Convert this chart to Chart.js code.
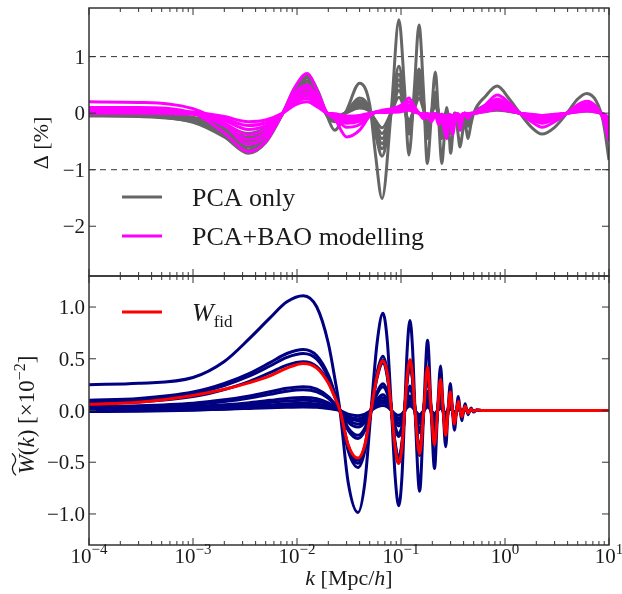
<!DOCTYPE html>
<html>
<head>
<meta charset="utf-8">
<script src="https://cdn.jsdelivr.net/npm/chart.js@4.4.0/dist/chart.umd.min.js"></script>
<style>
  body { margin: 0; background: #fff; }
  #wrap { position: relative; width: 622px; height: 594px; }
  canvas { position: absolute; left: 0; }
  #delta { top: 0; }
  #window { top: 275px; }
</style>
</head>
<body>
<div id="wrap">
  <canvas id="delta" width="622" height="277"></canvas>
  <canvas id="window" width="622" height="319"></canvas>
</div>
<script>
// ---- residuals Delta [%] ----
var kDelta = [1e-4, 3e-4, 1e-3, 2e-3, 3.4e-3, 5e-3, 7.3e-3, 0.0095, 0.0125, 0.016,
  0.0195, 0.023, 0.030, 0.040, 0.050, 0.057, 0.0657, 0.081, 0.0955, 0.108,
  0.119, 0.134, 0.149, 0.165, 0.179, 0.195, 0.214, 0.23, 0.247, 0.26,
  0.275, 0.29, 0.30, 0.315, 0.33, 0.35, 0.37, 0.39, 0.41, 0.425,
  0.44, 0.47, 0.5, 0.65, 0.84, 1.1, 1.39, 1.8, 2.27, 3.0,
  3.94, 5.0, 6.1, 7.5, 8.8, 10];

var pcaOnly = [
  [-0.02, -0.04, -0.16, -0.42, -0.71, -0.52, 0.0, 0.45, 0.67, 0.38, -0.05, -0.30, 0.05, 0.53, 0.15, -0.75, -1.51, 0.1, 1.65, 0.45, -0.74, 0.4, 1.56, 0.35, -0.89, -0.1, 0.73, -0.1, -0.89, -0.45, 0.1, -0.35, -0.71, -0.35, 0.0, -0.3, -0.6, -0.35, -0.12, -0.3, -0.45, -0.2, 0.0, 0.3, 0.48, 0.25, 0.0, -0.25, -0.37, -0.25, 0.0, 0.25, 0.35, 0.22, -0.15, -0.83],
  [-0.02, -0.04, -0.15, -0.39, -0.65, -0.48, 0.0, 0.41, 0.62, 0.35, -0.05, -0.15, 0.03, 0.27, 0.08, -0.38, -0.76, 0.05, 0.83, 0.23, -0.37, 0.2, 0.78, 0.18, -0.45, -0.05, 0.37, -0.05, -0.45, -0.23, 0.05, -0.18, -0.36, -0.18, 0.0, -0.15, -0.3, -0.18, -0.06, -0.15, -0.23, -0.1, 0.0, 0.14, 0.22, 0.11, 0.0, -0.11, -0.17, -0.11, 0.0, 0.11, 0.16, 0.1, -0.07, -0.37],
  [-0.05, -0.06, -0.15, -0.36, -0.6, -0.44, 0.0, 0.38, 0.57, 0.32, -0.04, -0.13, 0.02, 0.22, 0.06, -0.32, -0.63, 0.04, 0.69, 0.19, -0.31, 0.17, 0.66, 0.15, -0.37, -0.04, 0.31, -0.04, -0.37, -0.19, 0.04, -0.15, -0.3, -0.15, 0.0, -0.13, -0.25, -0.15, -0.05, -0.13, -0.19, -0.08, 0.0, 0.11, 0.17, 0.09, 0.0, -0.09, -0.13, -0.09, 0.0, 0.09, 0.12, 0.08, -0.05, -0.29],
  [-0.04, -0.05, -0.13, -0.33, -0.55, -0.41, 0.0, 0.35, 0.52, 0.3, -0.04, -0.11, 0.02, 0.19, 0.05, -0.27, -0.54, 0.04, 0.59, 0.16, -0.27, 0.14, 0.56, 0.13, -0.32, -0.04, 0.26, -0.04, -0.32, -0.16, 0.04, -0.13, -0.26, -0.13, 0.0, -0.11, -0.22, -0.13, -0.04, -0.11, -0.16, -0.07, 0.0, 0.08, 0.13, 0.07, 0.0, -0.07, -0.1, -0.07, 0.0, 0.07, 0.1, 0.06, -0.04, -0.23],
  [-0.03, -0.04, -0.11, -0.29, -0.5, -0.36, 0.0, 0.32, 0.47, 0.27, -0.03, -0.09, 0.02, 0.16, 0.05, -0.23, -0.45, 0.03, 0.5, 0.14, -0.22, 0.12, 0.47, 0.11, -0.27, -0.03, 0.22, -0.03, -0.27, -0.14, 0.03, -0.11, -0.21, -0.11, 0.0, -0.09, -0.18, -0.11, -0.04, -0.09, -0.14, -0.06, 0.0, 0.07, 0.11, 0.06, 0.0, -0.06, -0.08, -0.06, 0.0, 0.06, 0.08, 0.05, -0.03, -0.18],
  [-0.01, -0.02, -0.09, -0.25, -0.43, -0.31, 0.0, 0.27, 0.4, 0.23, -0.03, -0.07, 0.01, 0.13, 0.04, -0.18, -0.36, 0.02, 0.4, 0.11, -0.18, 0.1, 0.37, 0.08, -0.21, -0.02, 0.18, -0.02, -0.21, -0.11, 0.02, -0.08, -0.17, -0.08, 0.0, -0.07, -0.14, -0.08, -0.03, -0.07, -0.11, -0.05, 0.0, 0.05, 0.07, 0.04, 0.0, -0.04, -0.06, -0.04, 0.0, 0.04, 0.05, 0.03, -0.02, -0.12],
  [0.0, -0.01, -0.07, -0.21, -0.36, -0.26, 0.0, 0.22, 0.33, 0.19, -0.02, -0.05, 0.01, 0.09, 0.03, -0.13, -0.26, 0.02, 0.28, 0.08, -0.13, 0.07, 0.27, 0.06, -0.15, -0.02, 0.12, -0.02, -0.15, -0.08, 0.02, -0.06, -0.12, -0.06, 0.0, -0.05, -0.1, -0.06, -0.02, -0.05, -0.08, -0.03, 0.0, 0.03, 0.05, 0.03, 0.0, -0.03, -0.04, -0.03, 0.0, 0.03, 0.04, 0.02, -0.02, -0.08]
];

var pcaBao = [
  [0.20, 0.19, 0.08, -0.20, -0.55, -0.42, 0.0, 0.45, 0.70, 0.35, 0.0, -0.10, -0.42, -0.30, -0.05, 0.02, 0.05, 0.08, 0.12, 0.18, 0.27, 0.12, 0.0, -0.1, -0.05, -0.15, -0.05, -0.2, -0.1, -0.3, -0.45, -0.1, -0.2, -0.38, -0.15, -0.05, -0.3, -0.1, 0.0, -0.05, -0.1, -0.02, 0.0, 0.15, 0.32, 0.18, 0.0, -0.15, -0.25, -0.15, 0.0, 0.15, 0.21, 0.12, -0.1, -0.5],
  [0.10, 0.10, 0.0, -0.35, -0.68, -0.5, 0.0, 0.35, 0.5, 0.25, 0.0, -0.06, -0.25, -0.2, -0.03, 0.02, 0.04, 0.06, 0.1, 0.15, 0.2, 0.08, 0.0, -0.05, -0.03, -0.1, -0.03, -0.12, -0.06, -0.2, -0.3, -0.08, -0.12, -0.25, -0.1, -0.03, -0.2, -0.06, 0.0, -0.03, -0.06, -0.01, 0.0, 0.12, 0.25, 0.14, 0.0, -0.1, -0.18, -0.1, 0.0, 0.1, 0.16, 0.09, -0.07, -0.35],
  [0.08, 0.08, 0.0, -0.22, -0.47, -0.35, 0.0, 0.3, 0.44, 0.22, 0.0, -0.05, -0.18, -0.14, -0.02, 0.02, 0.03, 0.05, 0.08, 0.12, 0.15, 0.06, 0.0, -0.04, -0.02, -0.08, -0.02, -0.09, -0.05, -0.15, -0.22, -0.06, -0.09, -0.18, -0.07, -0.02, -0.14, -0.04, 0.0, -0.02, -0.04, -0.01, 0.0, 0.09, 0.2, 0.11, 0.0, -0.08, -0.14, -0.08, 0.0, 0.08, 0.13, 0.07, -0.05, -0.28],
  [0.05, 0.05, -0.01, -0.18, -0.38, -0.28, 0.0, 0.25, 0.37, 0.19, 0.0, -0.04, -0.14, -0.1, -0.02, 0.01, 0.02, 0.04, 0.06, 0.09, 0.11, 0.05, 0.0, -0.03, -0.02, -0.06, -0.02, -0.07, -0.04, -0.11, -0.16, -0.05, -0.07, -0.13, -0.05, -0.02, -0.1, -0.03, 0.0, -0.02, -0.03, -0.01, 0.0, 0.07, 0.16, 0.09, 0.0, -0.06, -0.11, -0.06, 0.0, 0.06, 0.1, 0.06, -0.04, -0.22],
  [0.03, 0.03, -0.01, -0.13, -0.29, -0.22, 0.0, 0.21, 0.31, 0.16, 0.0, -0.03, -0.1, -0.08, -0.01, 0.01, 0.02, 0.03, 0.05, 0.07, 0.08, 0.04, 0.0, -0.02, -0.01, -0.05, -0.01, -0.05, -0.03, -0.08, -0.12, -0.04, -0.05, -0.1, -0.04, -0.01, -0.08, -0.02, 0.0, -0.01, -0.02, 0.0, 0.0, 0.05, 0.12, 0.07, 0.0, -0.05, -0.08, -0.05, 0.0, 0.05, 0.08, 0.04, -0.03, -0.17],
  [0.0, 0.0, -0.02, -0.1, -0.22, -0.17, 0.0, 0.18, 0.26, 0.13, 0.0, -0.02, -0.07, -0.05, -0.01, 0.01, 0.01, 0.02, 0.03, 0.05, 0.06, 0.03, 0.0, -0.02, -0.01, -0.03, -0.01, -0.04, -0.02, -0.06, -0.09, -0.03, -0.04, -0.07, -0.03, -0.01, -0.06, -0.02, 0.0, -0.01, -0.02, 0.0, 0.0, 0.04, 0.09, 0.05, 0.0, -0.03, -0.06, -0.03, 0.0, 0.03, 0.06, 0.03, -0.02, -0.12],
  [0.06, 0.06, 0.02, -0.06, -0.15, -0.12, 0.0, 0.14, 0.2, 0.1, 0.0, -0.01, -0.05, -0.04, 0.0, 0.01, 0.01, 0.02, 0.02, 0.04, 0.05, 0.02, 0.0, -0.01, -0.01, -0.02, -0.01, -0.03, -0.02, -0.04, -0.06, -0.02, -0.03, -0.05, -0.02, -0.01, -0.04, -0.01, 0.0, -0.01, -0.01, 0.0, 0.0, 0.03, 0.07, 0.04, 0.0, -0.02, -0.04, -0.02, 0.0, 0.02, 0.04, 0.02, -0.01, -0.08]
];

var deltaRefLevels = [1, -1];
var deltaTicks = [-2, -1, 0, 1];

// ---- window function W(k), units of 1e-2 ----
var kW = [1e-4, 3e-4, 1e-3, 2e-3, 3.5e-3, 5.5e-3, 8e-3, 0.0115, 0.0155, 0.020, 0.0232, 0.0259,
  0.031, 0.0386, 0.045, 0.0515, 0.059, 0.067, 0.074, 0.081, 0.088, 0.095, 0.102, 0.1085, 0.115, 0.122, 0.129, 0.1365,
  0.151, 0.1655, 0.180, 0.195, 0.210, 0.225, 0.240, 0.2545, 0.269, 0.2835, 0.298, 0.3125, 0.327, 0.3415,
  0.356, 0.3705, 0.385, 0.3995, 0.414, 0.4285, 0.443, 0.4575, 0.472, 0.486, 0.50, 0.53, 0.6, 1, 10];

var wSamples = [
  [0.25, 0.263, 0.319, 0.474, 0.697, 0.895, 1.05, 1.11, 1.0, 0.65, 0.30, 0, -0.69, -0.985, -0.69, 0, 0.66, 0.94, 0.66, 0, -0.65, -0.92, -0.65, 0, 0.61, 0.87, 0.61, 0, -0.78, 0, 0.68, 0, -0.56, 0, 0.43, 0, -0.35, 0, 0.26, 0, -0.19, 0, 0.135, 0, -0.10, 0, 0.065, 0, -0.04, 0, 0.025, 0, -0.015, 0.005, 0, 0, 0],
  [0.10, 0.115, 0.178, 0.262, 0.36, 0.463, 0.551, 0.59, 0.53, 0.345, 0.16, 0, -0.385, -0.55, -0.385, 0, 0.37, 0.525, 0.37, 0, -0.36, -0.51, -0.36, 0, 0.34, 0.485, 0.34, 0, -0.435, 0, 0.38, 0, -0.31, 0, 0.24, 0, -0.195, 0, 0.145, 0, -0.105, 0, 0.075, 0, -0.055, 0, 0.036, 0, -0.022, 0, 0.014, 0, -0.008, 0.003, 0, 0, 0],
  [0.09, 0.104, 0.164, 0.242, 0.334, 0.43, 0.513, 0.55, 0.495, 0.32, 0.15, 0, -0.357, -0.51, -0.357, 0, 0.342, 0.487, 0.342, 0, -0.337, -0.476, -0.337, 0, 0.316, 0.45, 0.316, 0, -0.403, 0, 0.352, 0, -0.29, 0, 0.224, 0, -0.18, 0, 0.135, 0, -0.097, 0, 0.07, 0, -0.051, 0, 0.033, 0, -0.02, 0, 0.013, 0, -0.008, 0.003, 0, 0, 0],
  [0.07, 0.082, 0.134, 0.202, 0.282, 0.366, 0.438, 0.47, 0.423, 0.275, 0.127, 0, -0.336, -0.48, -0.336, 0, 0.32, 0.458, 0.32, 0, -0.317, -0.448, -0.317, 0, 0.298, 0.424, 0.298, 0, -0.38, 0, 0.33, 0, -0.274, 0, 0.211, 0, -0.17, 0, 0.127, 0, -0.091, 0, 0.066, 0, -0.048, 0, 0.031, 0, -0.019, 0, 0.012, 0, -0.007, 0.002, 0, 0, 0],
  [0.04, 0.046, 0.07, 0.103, 0.141, 0.181, 0.215, 0.23, 0.207, 0.135, 0.062, 0, -0.19, -0.27, -0.19, 0, 0.18, 0.258, 0.18, 0, -0.178, -0.252, -0.178, 0, 0.167, 0.238, 0.167, 0, -0.213, 0, 0.186, 0, -0.154, 0, 0.119, 0, -0.096, 0, 0.071, 0, -0.051, 0, 0.037, 0, -0.027, 0, 0.018, 0, -0.011, 0, 0.007, 0, -0.004, 0.001, 0, 0, 0],
  [0.03, 0.035, 0.057, 0.086, 0.12, 0.156, 0.186, 0.20, 0.18, 0.117, 0.054, 0, -0.168, -0.24, -0.168, 0, 0.161, 0.229, 0.161, 0, -0.158, -0.224, -0.158, 0, 0.149, 0.212, 0.149, 0, -0.19, 0, 0.166, 0, -0.137, 0, 0.106, 0, -0.085, 0, 0.063, 0, -0.046, 0, 0.033, 0, -0.024, 0, 0.016, 0, -0.01, 0, 0.006, 0, -0.004, 0.001, 0, 0, 0],
  [0.02, 0.023, 0.037, 0.055, 0.076, 0.098, 0.117, 0.125, 0.113, 0.073, 0.034, 0, -0.112, -0.16, -0.112, 0, 0.107, 0.153, 0.107, 0, -0.106, -0.149, -0.106, 0, 0.099, 0.141, 0.099, 0, -0.126, 0, 0.11, 0, -0.091, 0, 0.07, 0, -0.057, 0, 0.042, 0, -0.03, 0, 0.022, 0, -0.016, 0, 0.01, 0, -0.006, 0, 0.004, 0, -0.002, 0.001, 0, 0, 0],
  [0.015, 0.018, 0.029, 0.043, 0.06, 0.078, 0.093, 0.10, 0.09, 0.059, 0.027, 0, -0.091, -0.13, -0.091, 0, 0.087, 0.124, 0.087, 0, -0.086, -0.121, -0.086, 0, 0.081, 0.115, 0.081, 0, -0.103, 0, 0.09, 0, -0.074, 0, 0.057, 0, -0.046, 0, 0.034, 0, -0.025, 0, 0.018, 0, -0.013, 0, 0.008, 0, -0.005, 0, 0.003, 0, -0.002, 0.001, 0, 0, 0],
  [0.01, 0.012, 0.02, 0.03, 0.042, 0.054, 0.065, 0.07, 0.063, 0.041, 0.019, 0, -0.056, -0.08, -0.056, 0, 0.054, 0.076, 0.054, 0, -0.053, -0.075, -0.053, 0, 0.05, 0.071, 0.05, 0, -0.063, 0, 0.055, 0, -0.046, 0, 0.035, 0, -0.028, 0, 0.021, 0, -0.015, 0, 0.011, 0, -0.008, 0, 0.005, 0, -0.003, 0, 0.002, 0, -0.001, 0, 0, 0, 0],
  [0, 0.002, 0.007, 0.013, 0.02, 0.026, 0.032, 0.035, 0.032, 0.02, 0.009, 0, -0.035, -0.05, -0.035, 0, 0.034, 0.048, 0.034, 0, -0.033, -0.047, -0.033, 0, 0.031, 0.044, 0.031, 0, -0.04, 0, 0.035, 0, -0.029, 0, 0.022, 0, -0.018, 0, 0.013, 0, -0.01, 0, 0.007, 0, -0.005, 0, 0.003, 0, -0.002, 0, 0.001, 0, 0, 0, 0, 0, 0],
  [-0.01, -0.007, 0.003, 0.014, 0.026, 0.037, 0.046, 0.05, 0.045, 0.029, 0.014, 0, -0.07, -0.10, -0.07, 0, 0.067, 0.096, 0.067, 0, -0.066, -0.093, -0.066, 0, 0.062, 0.088, 0.062, 0, -0.079, 0, 0.069, 0, -0.057, 0, 0.044, 0, -0.036, 0, 0.026, 0, -0.019, 0, 0.014, 0, -0.01, 0, 0.007, 0, -0.004, 0, 0.003, 0, -0.002, 0.001, 0, 0, 0]
];

var wFid = [0.06, 0.08, 0.145, 0.205, 0.27, 0.335, 0.41, 0.455, 0.41, 0.265, 0.123, 0, -0.33, -0.46, -0.33, 0, 0.335, 0.48, 0.35, 0, -0.36, -0.51, -0.36, 0, 0.345, 0.49, 0.345, 0, -0.42, 0, 0.42, 0, -0.33, 0, 0.30, 0, -0.24, 0, 0.18, 0, -0.13, 0, 0.09, 0, -0.06, 0, 0.04, 0, -0.025, 0, 0.015, 0, -0.008, 0.003, 0, 0, 0];

var wTicks = [-1.0, -0.5, 0.0, 0.5, 1.0];
var decades = [-4, -3, -2, -1, 0, 1];

var SERIF = '"Liberation Serif", "DejaVu Serif", serif';
var INK = '#1a1a1a';
var FRAME = '#333333';
var GRAY = '#666666', MAGENTA = '#ff00ff', NAVY = '#000080', RED = '#ff0000';

function series(ks, ys) {
  return ys.map(function (v, i) { return { x: ks[i], y: v }; });
}

function curve(data, color, order) {
  return {
    data: data, borderColor: color, borderWidth: 3, pointRadius: 0,
    cubicInterpolationMode: 'monotone', fill: false, order: order
  };
}

function line(ctx, x1, y1, x2, y2) {
  ctx.beginPath(); ctx.moveTo(x1, y1); ctx.lineTo(x2, y2); ctx.stroke();
}

// draws mixed-font text pieces: [text, font, dy, mark]
function drawRuns(ctx, parts, x, y, align) {
  var w = 0;
  parts.forEach(function (p) { ctx.font = p[1]; w += ctx.measureText(p[0]).width; });
  var cx = align === 'center' ? x - w / 2 : (align === 'right' ? x - w : x);
  ctx.textAlign = 'left';
  parts.forEach(function (p) {
    ctx.font = p[1];
    var pw = ctx.measureText(p[0]).width;
    ctx.fillText(p[0], cx, y + (p[2] || 0));
    if (p[3] === 'tilde') {
      var ty = y - 20, x0 = cx - 1, x1 = cx + pw + 2, tw = x1 - x0;
      ctx.save();
      ctx.strokeStyle = INK; ctx.lineWidth = 1.3;
      ctx.beginPath();
      ctx.moveTo(x0, ty + 2);
      ctx.bezierCurveTo(x0 + tw * 0.2, ty - 3, x0 + tw * 0.4, ty - 2, x0 + tw * 0.5, ty);
      ctx.bezierCurveTo(x0 + tw * 0.6, ty + 2, x0 + tw * 0.8, ty + 3, x1, ty - 2);
      ctx.stroke();
      ctx.restore();
    }
    cx += pw;
  });
  return w;
}

function fmtTick(v, digits) {
  var s = digits ? Math.abs(v).toFixed(digits) : String(Math.abs(v));
  return (v < 0 ? '\u2212' : '') + s;
}

function frameAndTicks(chart, yTicks, digits) {
  var ctx = chart.ctx, a = chart.chartArea, xs = chart.scales.x, ys = chart.scales.y;
  ctx.save();
  ctx.strokeStyle = FRAME;
  ctx.lineWidth = 1;
  decades.forEach(function (d) {
    for (var m = 1; m <= 9; m++) {
      var k = m * Math.pow(10, d);
      if (k > 10.001) break;
      var x = xs.getPixelForValue(k);
      var len = m === 1 ? 7 : 4;
      line(ctx, x, a.top, x, a.top + len);
      line(ctx, x, a.bottom, x, a.bottom - len);
    }
  });
  yTicks.forEach(function (v) {
    var y = ys.getPixelForValue(v);
    line(ctx, a.left, y, a.left + 7, y);
    line(ctx, a.right, y, a.right - 7, y);
  });
  ctx.lineWidth = 1.5;
  ctx.strokeRect(a.left, a.top, a.right - a.left, a.bottom - a.top);

  ctx.fillStyle = INK;
  ctx.textBaseline = 'alphabetic';
  yTicks.forEach(function (v) {
    var y = ys.getPixelForValue(v);
    drawRuns(ctx, [[fmtTick(v, digits), '21px ' + SERIF]], a.left - 4, y + 7, 'right');
  });
  ctx.restore();
}

function legendRow(ctx, y, color, parts) {
  ctx.save();
  ctx.strokeStyle = color; ctx.lineWidth = 3;
  line(ctx, 122, y, 162, y);
  ctx.fillStyle = INK;
  drawRuns(ctx, parts, 192, y + 9, 'left');
  ctx.restore();
}

var deltaDecor = {
  id: 'deltaDecor',
  afterDraw: function (chart) {
    var ctx = chart.ctx;
    frameAndTicks(chart, deltaTicks, 0);
    legendRow(ctx, 197, GRAY, [['PCA only', '26px ' + SERIF]]);
    legendRow(ctx, 236, MAGENTA, [['PCA+BAO modelling', '26px ' + SERIF]]);
    ctx.save();
    ctx.fillStyle = INK;
    ctx.translate(48, 143);
    ctx.rotate(-Math.PI / 2);
    drawRuns(ctx, [['\u0394 [%]', '22px ' + SERIF]], 0, 0, 'center');
    ctx.restore();
  }
};

var windowDecor = {
  id: 'windowDecor',
  afterDraw: function (chart) {
    var ctx = chart.ctx, a = chart.chartArea, xs = chart.scales.x;
    frameAndTicks(chart, wTicks, 1);
    ctx.save();
    ctx.fillStyle = INK;
    decades.forEach(function (d) {
      var x = xs.getPixelForValue(Math.pow(10, d));
      drawRuns(ctx, [['10', '21px ' + SERIF], [fmtTick(d, 0), '15px ' + SERIF, -9]], x, a.bottom + 18, 'center');
    });
    var it = 'italic 22px ' + SERIF, rm = '22px ' + SERIF;
    drawRuns(ctx, [['k', it], [' [Mpc/', rm], ['h', it], [']', rm]], 349, a.bottom + 40, 'center');
    legendRow(ctx, 37, RED, [['W', 'italic 26px ' + SERIF], ['fid', '17px ' + SERIF, 6]]);
    ctx.translate(34, 140);
    ctx.rotate(-Math.PI / 2);
    var it2 = 'italic 23px ' + SERIF, rm2 = '23px ' + SERIF;
    drawRuns(ctx, [['W', it2, 0, 'tilde'], ['(', rm2], ['k', it2], [')', rm2], [' [\u00d710', rm2], ['\u22122', '16px ' + SERIF, -9], [']', rm2]], 0, 0, 'center');
    ctx.restore();
  }
};

function baseOptions(yMin, yMax, pad) {
  return {
    responsive: false, animation: false, devicePixelRatio: 1,
    layout: { padding: pad },
    plugins: { legend: { display: false }, tooltip: { enabled: false } },
    scales: {
      x: { type: 'logarithmic', min: 1e-4, max: 10, display: false },
      y: { type: 'linear', min: yMin, max: yMax, display: false }
    }
  };
}

// top panel: residuals
var deltaSets = [];
pcaBao.forEach(function (c) { deltaSets.push(curve(series(kDelta, c), MAGENTA, 0)); });
pcaOnly.forEach(function (c) { deltaSets.push(curve(series(kDelta, c), GRAY, 1)); });
deltaRefLevels.forEach(function (v) {
  deltaSets.push({
    data: [{ x: 1e-4, y: v }, { x: 10, y: v }], borderColor: '#333', borderWidth: 1,
    borderDash: [6, 5], pointRadius: 0, order: 2
  });
});

new Chart(document.getElementById('delta'), {
  type: 'line',
  data: { datasets: deltaSets },
  options: baseOptions(-2.88, 1.86, { left: 89, right: 13, top: 8, bottom: 1 }),
  plugins: [deltaDecor]
});

// bottom panel: window functions
var wSets = [curve(series(kW, wFid), RED, 0)];
wSamples.forEach(function (c) { wSets.push(curve(series(kW, c), NAVY, 1)); });

new Chart(document.getElementById('window'), {
  type: 'line',
  data: { datasets: wSets },
  options: baseOptions(-1.30, 1.30, { left: 89, right: 13, top: 1, bottom: 49 }),
  plugins: [windowDecor]
});
</script>
</body>
</html>
